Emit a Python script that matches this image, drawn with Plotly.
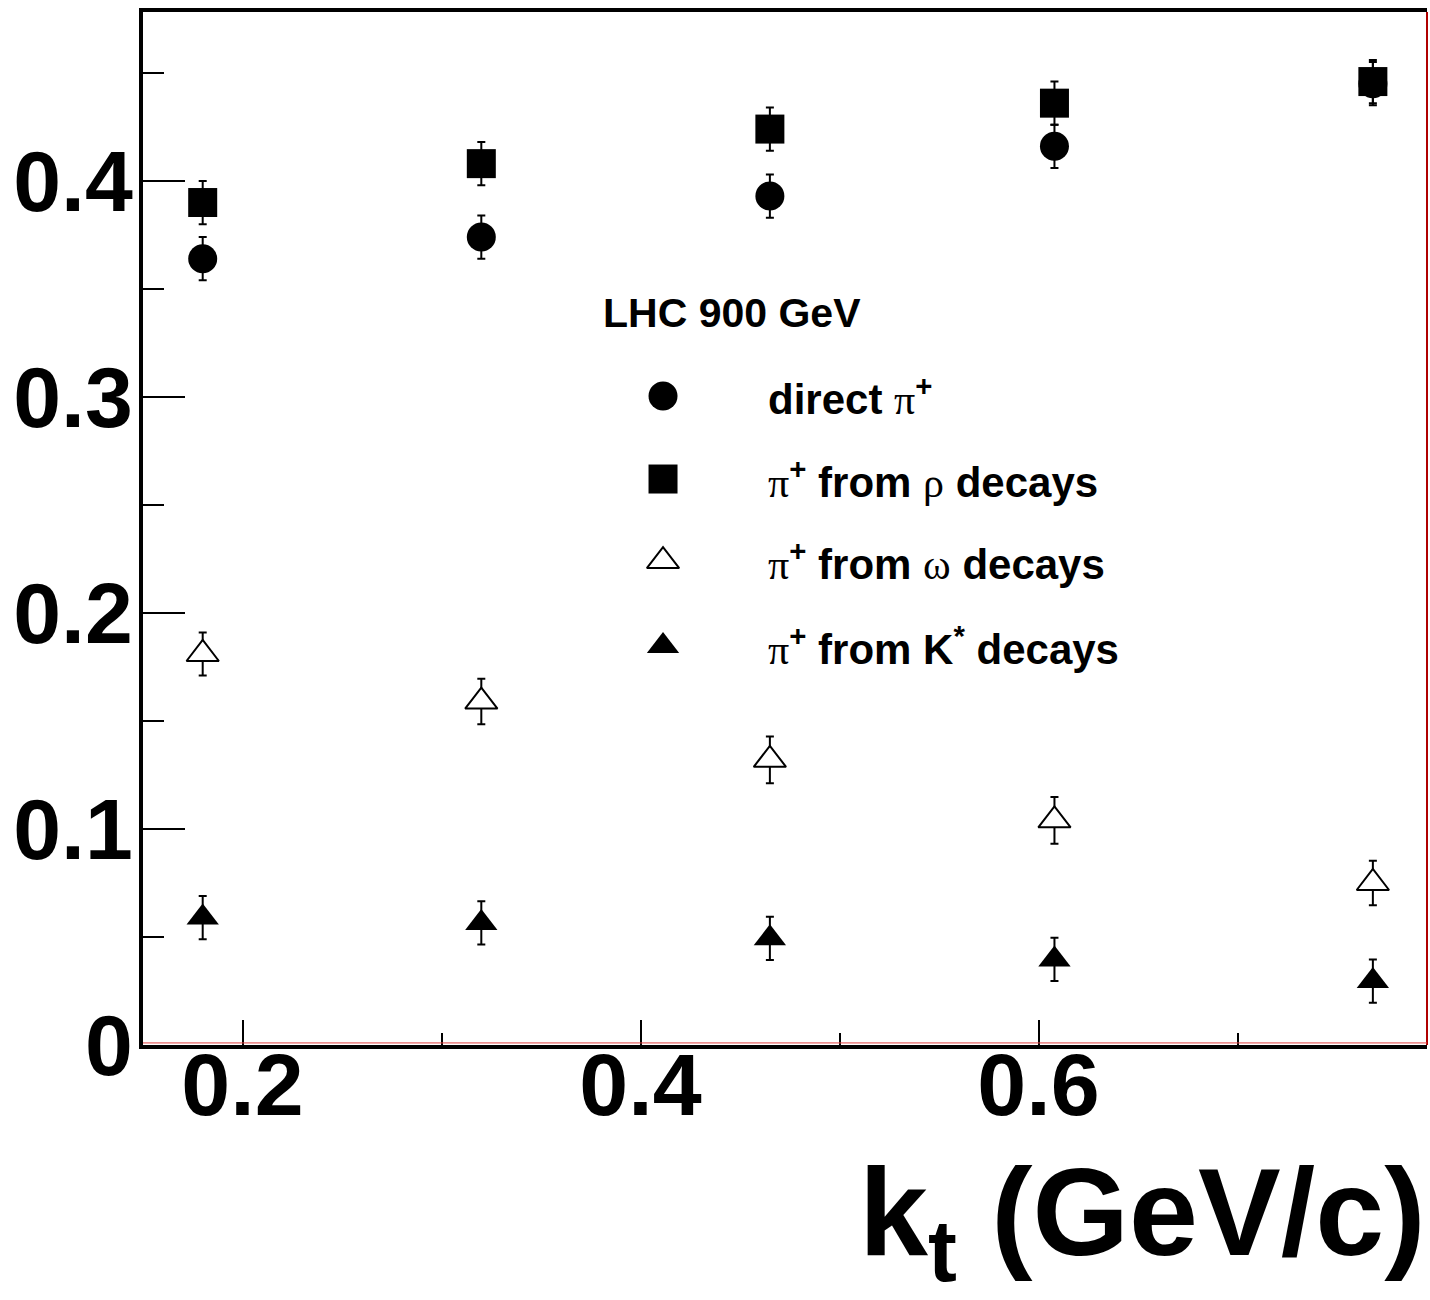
import plotly.graph_objects as go

# k_t bin centres (GeV/c)
kt = [0.180, 0.320, 0.465, 0.608, 0.768]

# pion source fractions per k_t bin
direct_pi = [0.364, 0.374, 0.393, 0.416, 0.445]
rho_pi = [0.390, 0.408, 0.424, 0.436, 0.446]
omega_pi = [0.181, 0.159, 0.132, 0.104, 0.075]
kstar_pi = [0.059, 0.0565, 0.0494, 0.0396, 0.0296]

# statistical uncertainties
direct_err = [0.010, 0.010, 0.010, 0.010, 0.010]
rho_err = [0.010, 0.010, 0.010, 0.010, 0.010]
omega_err = [0.010, 0.0105, 0.0108, 0.0108, 0.0103]
kstar_err = [0.010, 0.010, 0.010, 0.010, 0.010]

GREEK = "<span style='font-family:Liberation Serif;font-weight:normal'>{}</span>"
PI_PLUS = GREEK.format("\u03c0") + "<sup>+</sup>"

# legend entries
legend_labels = [
    "direct " + PI_PLUS,
    PI_PLUS + " from " + GREEK.format("\u03c1") + " decays",
    PI_PLUS + " from " + GREEK.format("\u03c9") + " decays",
    PI_PLUS + " from K<sup>*</sup> decays",
]
legend_title = "LHC 900 GeV"

FONT = "Liberation Sans"
MSIZE = 29
TRI = 28

series = [
    dict(y=direct_pi, e=direct_err, symbol="circle", size=MSIZE, fill="black"),
    dict(y=rho_pi, e=rho_err, symbol="square", size=MSIZE, fill="black"),
    dict(y=omega_pi, e=omega_err, symbol="triangle-up", size=TRI, fill="white"),
    dict(y=kstar_pi, e=kstar_err, symbol="triangle-up", size=TRI, fill="black"),
]

fig = go.Figure()

for s in series:
    fig.add_trace(go.Scatter(
        x=kt, y=s["y"], mode="markers", showlegend=False,
        marker=dict(symbol=s["symbol"], size=s["size"], color=s["fill"],
                    line=dict(color="black", width=2 if s["fill"] == "white" else 0)),
        error_y=dict(type="data", array=s["e"], color="black", thickness=2, width=4),
    ))

# legend keys on an overlay axis spanning the plot frame
key_x = 0.405
key_y = [0.6283, 0.5479, 0.4685, 0.3863]
for s, yk in zip(series, key_y):
    fig.add_trace(go.Scatter(
        x=[key_x], y=[yk], xaxis="x2", yaxis="y2", mode="markers", showlegend=False,
        marker=dict(symbol=s["symbol"], size=s["size"], color=s["fill"],
                    line=dict(color="black", width=2 if s["fill"] == "white" else 0)),
    ))

annotations = [
    dict(text=legend_title, x=0.3570, y=0.7086, xref="paper", yref="paper",
         xanchor="left", yanchor="middle", showarrow=False,
         font=dict(family=FONT, size=41, color="black", weight="bold")),
]
for lab, yk in zip(legend_labels, key_y):
    annotations.append(dict(
        text=lab, x=0.4852, y=yk, xref="paper", yref="paper",
        xanchor="left", yanchor="middle", showarrow=False,
        font=dict(family=FONT, size=42, color="black", weight="bold")))

# x-axis title, right-aligned under the frame
annotations.append(dict(
    text="k<sub>t</sub> (GeV/c)", x=1.0, y=-0.093, xref="paper", yref="paper",
    xanchor="right", yanchor="top", showarrow=False,
    font=dict(family=FONT, size=124, color="black", weight="bold")))

fig.update_layout(
    width=1430, height=1300,
    margin=dict(l=143, r=3, t=12, b=255),
    paper_bgcolor="white", plot_bgcolor="white",
    showlegend=False,
    annotations=annotations,
    xaxis=dict(
        range=[0.15, 0.7952], showgrid=False, zeroline=False, automargin=False,
        showline=True, linecolor="black", linewidth=4, mirror=True,
        ticks="inside", ticklen=25, tickwidth=1.5, tickcolor="black",
        tick0=0, dtick=0.2,
        minor=dict(ticks="inside", ticklen=12, tickwidth=1.5, tickcolor="black", dtick=0.1, tick0=0),
        tickfont=dict(family=FONT, size=88, color="black", weight="bold"),
        ticklabelstandoff=-40,
    ),
    yaxis=dict(
        range=[0, 0.4782], showgrid=False, zeroline=False, automargin=False,
        showline=True, linecolor="black", linewidth=4, mirror=False,
        ticks="inside", ticklen=42, tickwidth=1.5, tickcolor="black",
        tickmode="array", tickvals=[0, 0.1, 0.2, 0.3, 0.4],
        ticktext=["0", "0.1", "0.2", "0.3", "0.4"],
        minor=dict(ticks="inside", ticklen=21, tickwidth=1.5, tickcolor="black",
                   tickvals=[0.05, 0.15, 0.25, 0.35, 0.45]),
        tickfont=dict(family=FONT, size=86, color="black", weight="bold"),
        ticklabelstandoff=-11,
    ),
    xaxis2=dict(range=[0, 1], overlaying="x", visible=False, fixedrange=True),
    yaxis2=dict(range=[0, 1], overlaying="y", visible=False, fixedrange=True),
    shapes=[
        dict(type="line", xref="paper", yref="paper", x0=1, x1=1, y0=0, y1=1,
             line=dict(color="#b00000", width=2)),
        dict(type="line", xref="paper", yref="paper", x0=0, x1=1, y0=0.002, y1=0.002,
             line=dict(color="#e04040", width=1)),
    ],
)

fig.write_html("out.html")
